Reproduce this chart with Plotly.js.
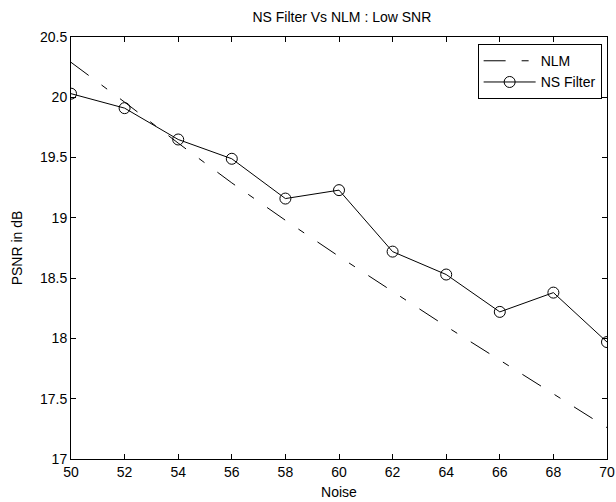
<!DOCTYPE html>
<html>
<head>
<meta charset="utf-8">
<script src="https://cdn.plot.ly/plotly-3.0.1.min.js"></script>
<style>html,body{margin:0;padding:0;background:#fff;}#chart{width:616px;height:502px;}</style>
</head>
<body>
<div id="chart"></div>
<script>
const noise = [50, 52, 54, 56, 58, 60, 62, 64, 66, 68, 70];
const nlm = [20.29, 19.96, 19.62, 19.29, 18.98, 18.68, 18.39, 18.10, 17.82, 17.54, 17.26];
const nsFilter = [20.03, 19.91, 19.65, 19.49, 19.16, 19.23, 18.72, 18.53, 18.22, 18.38, 17.97];
const xTicks = [50, 52, 54, 56, 58, 60, 62, 64, 66, 68, 70];
const yTicks = [17, 17.5, 18, 18.5, 19, 19.5, 20, 20.5];

const font = {family: 'Liberation Sans, Arial, Helvetica, sans-serif', size: 14, color: '#000'};

const traces = [
  {
    x: noise, y: nlm, name: 'NLM', mode: 'lines',
    line: {color: '#000', width: 1, dash: '22px,16px,7px,16px'}
  },
  {
    x: noise, y: nsFilter, name: 'NS Filter', mode: 'lines+markers',
    line: {color: '#000', width: 1},
    marker: {symbol: 'circle-open', size: 11, color: '#000', line: {width: 1, color: '#000'}}
  }
];

const axisCommon = {
  showline: true, linecolor: '#000', linewidth: 1, mirror: 'ticks',
  ticks: 'inside', ticklen: 5, tickwidth: 1, tickcolor: '#000',
  showgrid: false, zeroline: false, tickfont: font
};

const layout = {
  width: 616, height: 502,
  margin: {l: 71, r: 9, t: 37, b: 43},
  paper_bgcolor: '#fff', plot_bgcolor: '#fff',
  font: font,
  title: {text: 'NS Filter Vs NLM : Low SNR', font: font, x: 0.555, xanchor: 'center', y: 0.965, yanchor: 'middle'},
  xaxis: Object.assign({}, axisCommon, {
    range: [50, 70], tickvals: xTicks, ticktext: xTicks.map(String),
    title: {text: 'Noise', font: font, standoff: 8}
  }),
  yaxis: Object.assign({}, axisCommon, {
    range: [17, 20.5], tickvals: yTicks, ticktext: yTicks.map(String),
    title: {text: 'PSNR in dB', font: font, standoff: 14}
  }),
  showlegend: true,
  legend: {
    x: 0.99, y: 0.983, xanchor: 'right', yanchor: 'top',
    bgcolor: '#fff', bordercolor: '#000', borderwidth: 1,
    font: font, itemwidth: 52, tracegroupgap: 0
  }
};

Plotly.newPlot('chart', traces, layout, {displayModeBar: false, staticPlot: true});
</script>
</body>
</html>
